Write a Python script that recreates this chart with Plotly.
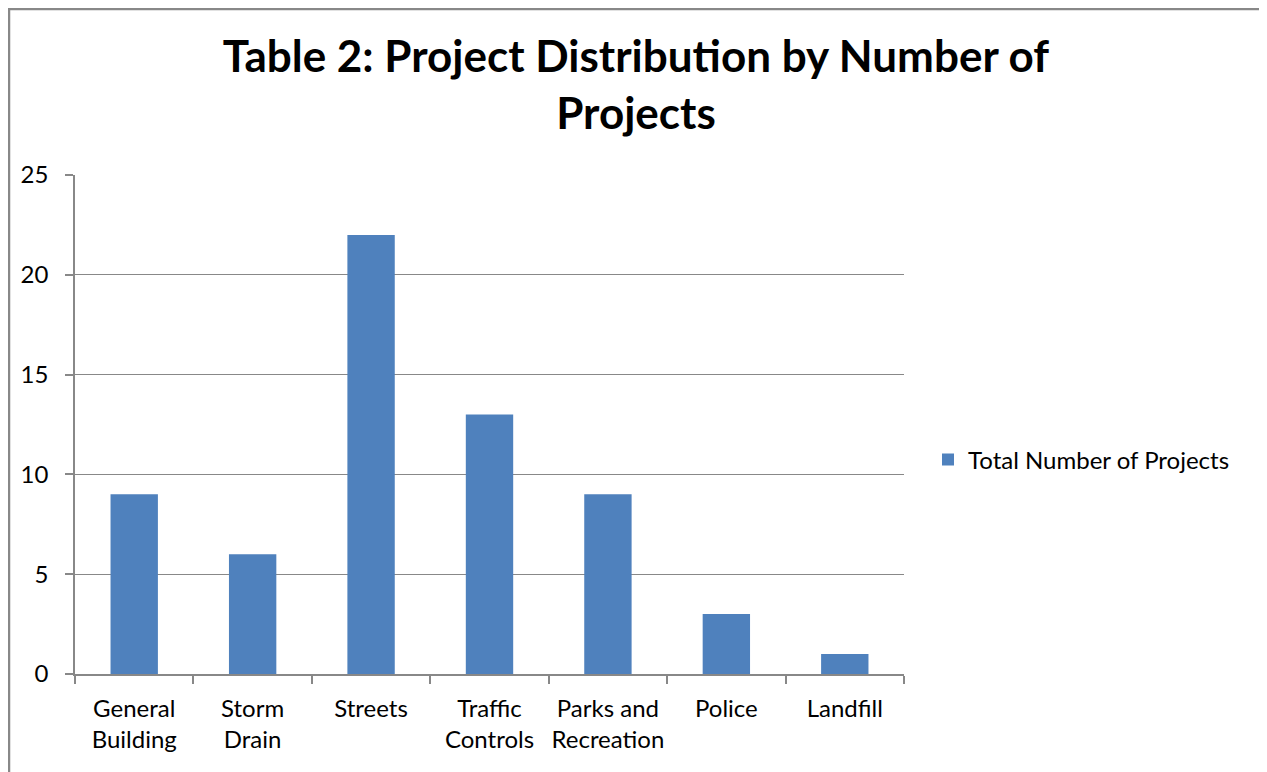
import plotly.graph_objects as go

categories = ["General<br>Building", "Storm<br>Drain", "Streets", "Traffic<br>Controls",
              "Parks and<br>Recreation", "Police", "Landfill"]
values = [9, 6, 22, 13, 9, 3, 1]
series_name = "Total Number of Projects"
y_ticks = [0, 5, 10, 15, 20, 25]

OFF = 8  # page body margin
W, H = 1267, 772
# plot area in page pixels: x 75..904, y 175..674
L = 75 - OFF
T = 175 - OFF
R = W - (904 - OFF)
B = H - (674 - OFF)
pw, ph = W - L - R, H - T - B

def px_x(x):  # page px -> paper
    return (x - OFF - L) / pw

def px_y(y):
    return 1 - (y - OFF - T) / ph

FONT = "Lato, Carlito, Calibri, sans-serif"

fig = go.Figure(go.Bar(x=categories, y=values, name=series_name,
                       marker=dict(color="#4F81BD", line=dict(width=0)),
                       showlegend=True))

fig.update_layout(
    width=W, height=H,
    margin=dict(l=L, r=R, t=T, b=B, autoexpand=False),
    paper_bgcolor="white", plot_bgcolor="white",
    font=dict(family=FONT, color="black", size=24),
    title=dict(text="<b>Table 2: Project Distribution by Number of<br>Projects</b>",
               x=(636 - OFF) / W, xanchor="center", y=1 - 64 / H, yanchor="top",
               font=dict(size=44, family=FONT), automargin=False),
    bargap=0.6,
    showlegend=True,
    legend=dict(x=px_x(928), y=px_y(460), xanchor="left", yanchor="middle",
                font=dict(size=24, family=FONT)),
    xaxis=dict(showline=True, linecolor="#888888", linewidth=1.5,
               ticks="outside", tickson="boundaries", ticklen=8, tickcolor="#888888",
               tickwidth=1.5, tickfont=dict(size=24), showgrid=False,
               ticklabelstandoff=12, tickangle=0, automargin=False),
    yaxis=dict(range=[0, 25], tickvals=y_ticks, showline=True, linecolor="#888888",
               linewidth=1.5, ticks="outside", ticklen=8, tickcolor="#888888",
               tickwidth=1.5, showgrid=True, gridcolor="#888888", gridwidth=1,
               tickfont=dict(size=24), zeroline=False, ticklabelstandoff=12,
               automargin=False),
    shapes=[dict(type="rect", xref="paper", yref="paper",
                 x0=(1 - L) / pw, x1=px_x(1265.5), y0=px_y(800), y1=1 + (T - 1) / ph,
                 line=dict(color="#888888", width=2.5), layer="below")],
)

fig.write_html("out.html")
